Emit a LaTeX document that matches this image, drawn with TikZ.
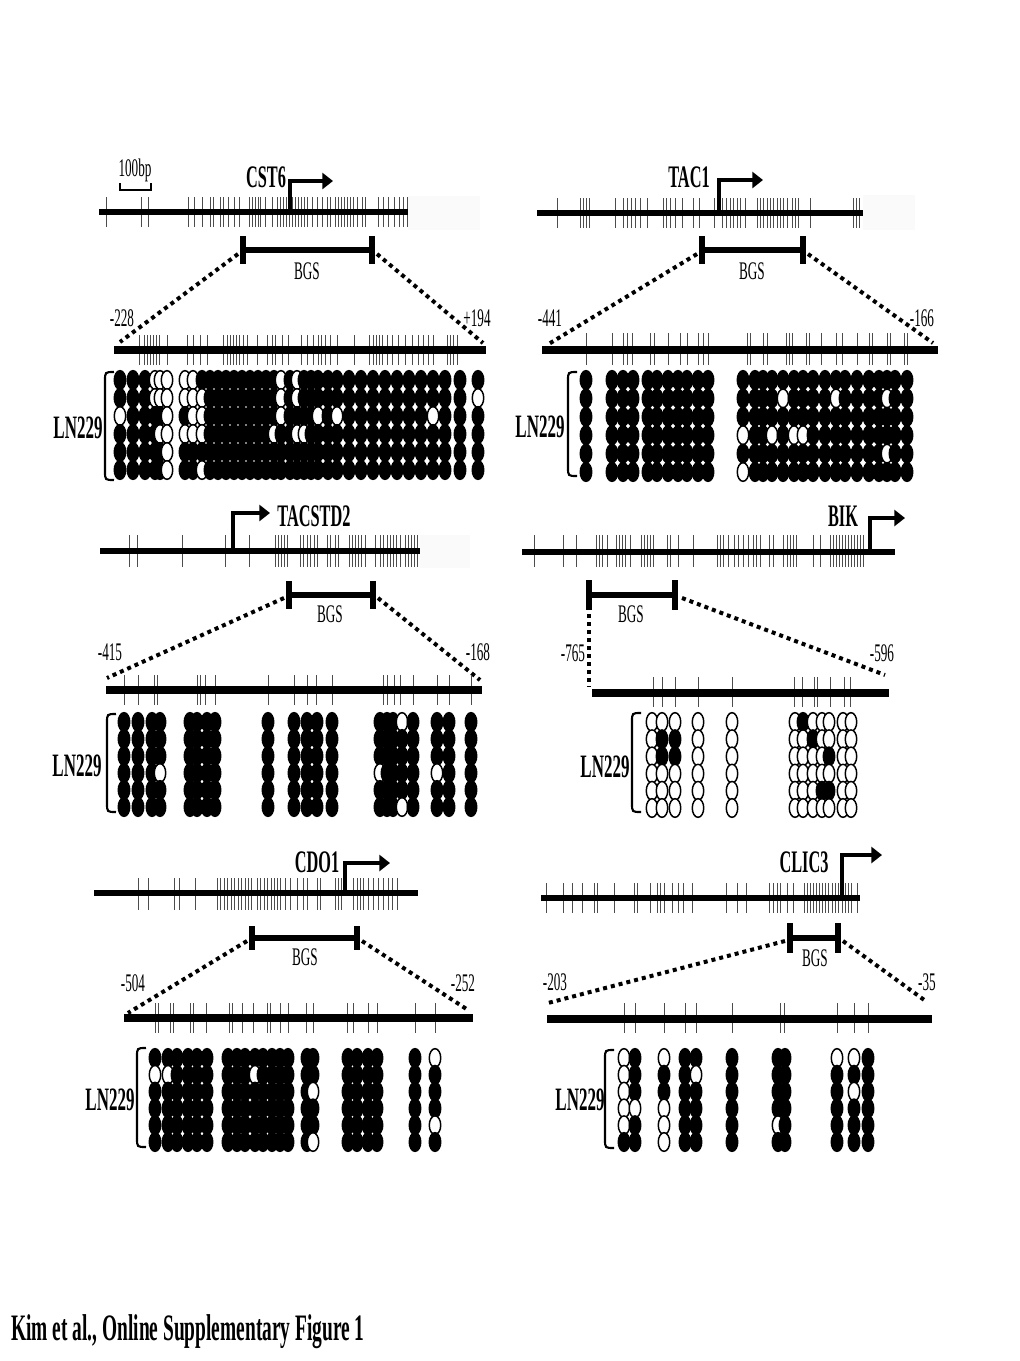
\documentclass[tikz,border=0pt]{standalone}
\usepackage{fontspec}
\setmainfont{Liberation Serif}[FakeStretch=0.52]
\usetikzlibrary{arrows.meta}
\tikzset{
  gline/.style={line width=4.5pt},
  zline/.style={line width=6pt},
  tck/.style={line width=0.7pt, draw=black!70},
  bgsbar/.style={line width=5pt},
  dots/.style={line width=3pt, dash pattern=on 3pt off 3pt},
  tss/.style={line width=3.5pt, line join=miter, -{Triangle[length=8pt,width=12pt]}},
  lolli/.style={draw=black, line width=1.1pt},
  brk/.style={line width=1.6pt},
  glabel/.style={font=\bfseries\fontsize{23.5}{24}\selectfont, inner sep=0pt},
  celltxt/.style={font=\bfseries\fontsize{24.5}{25}\selectfont, inner sep=0pt},
  smalltxt/.style={font=\fontsize{19}{20}\selectfont, inner sep=0pt},
  captxt/.style={font=\bfseries\fontsize{28}{29}\selectfont, inner sep=0pt},
}
\newcommand\ticks[3]{\foreach \t in {#3} \draw[tck] (\t,#1) -- (\t,#2);}
\newcommand\lmat[7]{%
  \foreach \p/\q in {#6}{\expandafter\xdef\csname lm-#1-\p-\q\endcsname{1}}%
  \foreach \cx in {#5}{\foreach \rr in {0,...,5}{%
    \ifcsname lm-#1-\cx-\rr\endcsname\def\lmf{#7}\else\def\lmf{#4}\fi
    \draw[lolli, fill=\lmf] (\cx,{#2+\rr*#3}) ellipse [x radius=4.3pt, y radius=7pt];
  }}}
\newcommand\bgs[4]{% y, x1, x2, caps half height
  \draw[bgsbar] (#2,#1) -- (#3,#1);
  \draw[bgsbar] (#2,#1-#4) -- (#2,#1+#4);
  \draw[bgsbar] (#3,#1-#4) -- (#3,#1+#4);}
\newcommand\lnbrack[3]{% x, top, bottom
  \draw[brk] (#1+9,#2) .. controls (#1,#2) and (#1,#2) .. (#1,#2+9) -- (#1,#3-9) .. controls (#1,#3) and (#1,#3) .. (#1+9,#3);}
\begin{document}
\begin{tikzpicture}[x=0.75pt,y=-0.75pt]
\fill[white] (0,0) rectangle (1020,1361);
\useasboundingbox (0,0) rectangle (1020,1361);

%% ---------------- CST6 ----------------
\fill[black!2] (408,196) rectangle (480,230);
\ticks{197}{227}{106,141,148,188,194,202,210,213,220,223,228,234,239,249,252,255,258,260,265,272,277,280,283,286,289,292,295,298,301,304,307,312,317,322,327,330,335,338,341,344,347,350,353,357,362,365,378,383,388,394,399,403,407}
\draw[gline] (99,212) -- (408,212);
\draw[tss] (290,212) |- (333,181);
\node[glabel] (cst6) at (266,177) {CST6};
\node[smalltxt] (bp) at (135,170) {100bp};
\draw[line width=0.8pt] (120,183) -- (120,190) -- (151,190) -- (151,183);
\bgs{250}{243}{372}{14}
\node[smalltxt] (bgs1) at (307,271) {BGS};
\coordinate (b1l) at (238,254); \coordinate (b1r) at (377,254);
\coordinate (z1l) at (120,342); \coordinate (z1r) at (483,343);
\draw[dots] (b1l) -- (z1l); \draw[dots] (b1r) -- (z1r);
\node[smalltxt] (n1a) at (122,318) {-228};
\node[smalltxt] (n1b) at (477,318) {+194};
\ticks{335}{365}{139,144,147,150,153,156,159,167,187,193,200,207,223,227,230,233,236,239,243,247,257,267,272,275,282,288,301,307,313,318,321,325,330,337,354,369,373,376,379,382,387,392,398,405,412,418,423,428,433,447,450,453,457}
\draw[zline] (114,350) -- (486,350);
\lmat{a}{380}{18}{black}{120,133,145,155,160,167,185,193,202,210,218,226,234,242,250,258,266,274,281,290,297,304,311,318,328,337,349,361,373,385,397,409,421,433,445,460,478}{155/0,160/0,167/0,185/0,193/0,281/0,297/0,155/1,160/1,167/1,185/1,193/1,202/1,281/1,297/1,478/1,120/2,167/2,193/2,202/2,281/2,318/2,337/2,433/2,160/3,167/3,185/3,193/3,202/3,274/3,297/3,304/3,167/4,167/5,202/5}{white}
\lnbrack{105}{372}{480}
\node[celltxt] (ln1) at (78,428) {LN229};

%% ---------------- TAC1 ----------------
\fill[black!2] (863,195) rectangle (915,230);
\ticks{198}{228}{557,580,583,586,589,615,623,627,631,635,640,647,663,666,670,675,682,693,699,714,722,726,730,733,737,740,745,757,760,763,767,770,773,777,780,783,787,792,795,798,810,853,856,859}
\draw[gline] (537,213) -- (863,213);
\draw[tss] (719,213) |- (763,180);
\node[glabel] (tac1) at (689,177) {TAC1};
\bgs{250}{702}{803}{14}
\node[smalltxt] (bgs2) at (752,271) {BGS};
\coordinate (b2l) at (697,254); \coordinate (b2r) at (808,254);
\coordinate (z2l) at (547,345); \coordinate (z2r) at (933,343);
\draw[dots] (b2l) -- (z2l); \draw[dots] (b2r) -- (z2r);
\node[smalltxt] (n2a) at (550,318) {-441};
\node[smalltxt] (n2b) at (922,318) {-166};
\ticks{333}{365}{586,612,623,627,632,650,654,668,680,687,698,703,708,747,750,763,767,786,789,792,806,809,821,836,842,857,869,872,887,890,904,907}
\draw[zline] (542,350) -- (938,350);
\lmat{b}{380}{18.4}{black}{586,612,623,633,648,657,668,678,687,698,708,743,755,763,772,783,794,803,813,825,836,845,857,869,879,887,895,907}{743/3,772/3,794/3,803/3,783/1,836/1,887/1,887/4,743/5}{white}
\lnbrack{568}{372}{476}
\node[celltxt] (ln2) at (540,427) {LN229};

%% ---------------- TACSTD2 ----------------
\fill[black!2] (420,535) rectangle (470,568);
\ticks{535}{567}{129,137,182,225,249,275,278,281,284,287,300,303,307,310,314,317,327,330,335,338,349,352,355,358,361,365,375,380,383,387,390,393,396,400,405,408,411,414,417}
\draw[gline] (100,551) -- (420,551);
\draw[tss] (233,551) |- (270,513);
\node[glabel] (tacstd2) at (314,516) {TACSTD2};
\bgs{595}{289}{373}{14}
\node[smalltxt] (bgs3) at (330,614) {BGS};
\coordinate (b3l) at (284,598); \coordinate (b3r) at (378,598);
\coordinate (z3l) at (107,678); \coordinate (z3r) at (480,680);
\draw[dots] (b3l) -- (z3l); \draw[dots] (b3r) -- (z3r);
\node[smalltxt] (n3a) at (110,652) {-415};
\node[smalltxt] (n3b) at (478,652) {-168};
\ticks{675}{705}{124,138,154,157,197,200,205,215,268,294,307,316,332,383,387,394,400,413,437,449,471}
\draw[zline] (106,690) -- (482,690);
\lmat{c}{722}{17}{black}{124,138,152,160,190,197,207,215,268,294,307,317,332,380,387,393,402,413,437,449,471}{160/3,402/0,402/5,380/3,437/3}{white}
\lnbrack{107}{714}{812}
\node[celltxt] (ln3) at (77,766) {LN229};

%% ---------------- BIK ----------------
\ticks{535}{567}{534,563,576,596,599,602,607,616,619,622,625,630,641,644,647,650,653,667,670,678,693,717,720,723,728,734,738,743,748,753,756,760,769,773,783,787,790,793,796,813,820,830,833,836,839,842,845,848,851,854,857,860,863}
\draw[gline] (522,552) -- (895,552);
\draw[tss] (870,552) |- (905,518);
\node[glabel] (bik) at (843,516) {BIK};
\bgs{595}{589}{675}{15}
\node[smalltxt] (bgs4) at (631,614) {BGS};
\coordinate (b4l) at (589,614); \coordinate (b4r) at (682,598);
\coordinate (z4l) at (589,687); \coordinate (z4r) at (885,675);
\draw[dots] (b4l) -- (z4l); \draw[dots] (b4r) -- (z4r);
\node[smalltxt] (n4a) at (573,653) {-765};
\node[smalltxt] (n4b) at (882,653) {-596};
\ticks{677}{707}{653,662,675,698,732,794,802,814,817,830,844,850}
\draw[zline] (592,693) -- (889,693);
\lmat{d}{722}{17.2}{white}{652,662,675,698,732,795,803,813,822,829,843,851}{662/1,662/2,675/1,675/2,803/0,813/1,829/2,822/4,829/4}{black}
\lnbrack{632}{713}{812}
\node[celltxt] (ln4) at (605,767) {LN229};

%% ---------------- CDO1 ----------------
\ticks{878}{910}{138,148,174,179,195,217,220,224,227,231,234,238,241,245,248,251,257,260,264,267,271,274,277,280,285,290,297,303,307,317,320,335,338,341,353,357,360,363,368,373,378,383,388,392,397}
\draw[gline] (94,893) -- (418,893);
\draw[tss] (345,893) |- (390,863);
\node[glabel] (cdo1) at (317,862) {CDO1};
\bgs{938}{252}{357}{12}
\node[smalltxt] (bgs5) at (305,957) {BGS};
\coordinate (b5l) at (247,941); \coordinate (b5r) at (362,941);
\coordinate (z5l) at (128,1013); \coordinate (z5r) at (468,1010);
\draw[dots] (b5l) -- (z5l); \draw[dots] (b5r) -- (z5r);
\node[smalltxt] (n5a) at (133,983) {-504};
\node[smalltxt] (n5b) at (463,983) {-252};
\ticks{1003}{1033}{155,158,170,173,190,193,206,229,232,242,253,267,270,280,288,306,313,347,353,368,377,415,435}
\draw[zline] (124,1018) -- (473,1018);
\lmat{e}{1058}{16.8}{black}{155,168,177,188,197,207,228,237,245,255,263,272,280,288,307,313,348,357,368,377,415,435}{155/1,168/1,255/1,313/2,313/5,435/0,435/4}{white}
\lnbrack{137}{1048}{1147}
\node[celltxt] (ln5) at (110,1100) {LN229};

%% ---------------- CLIC3 ----------------
\ticks{883}{913}{546,563,572,582,594,597,614,634,637,650,657,660,664,672,678,683,692,726,737,746,769,773,777,780,787,793,804,807,810,813,816,819,822,825,828,832,835,838,842,845,848,851,857}
\draw[gline] (541,898) -- (860,898);
\draw[tss] (842,898) |- (882,855);
\node[glabel] (clic3) at (804,862) {CLIC3};
\bgs{938}{790}{838}{15}
\node[smalltxt] (bgs6) at (815,958) {BGS};
\coordinate (b6l) at (785,941); \coordinate (b6r) at (843,941);
\coordinate (z6l) at (548,1003); \coordinate (z6r) at (927,1002);
\draw[dots] (b6l) -- (z6l); \draw[dots] (b6r) -- (z6r);
\node[smalltxt] (n6a) at (555,982) {-203};
\node[smalltxt] (n6b) at (927,982) {-35};
\ticks{1003}{1033}{624,635,664,685,696,732,780,784,837,854,868}
\draw[zline] (547,1019) -- (932,1019);
\lmat{f}{1058}{16.8}{black}{624,635,664,685,696,732,778,785,837,854,868}{624/0,624/1,624/2,624/3,624/4,635/3,664/0,664/3,664/4,664/5,696/1,778/4,837/0,854/0,854/2}{white}
\lnbrack{605}{1050}{1148}
\node[celltxt] (ln6) at (580,1100) {LN229};

%% caption
\node[captxt, anchor=west] (cap) at (11,1332) {Kim et al., Online Supplementary Figure 1};
\end{tikzpicture}
\end{document}
